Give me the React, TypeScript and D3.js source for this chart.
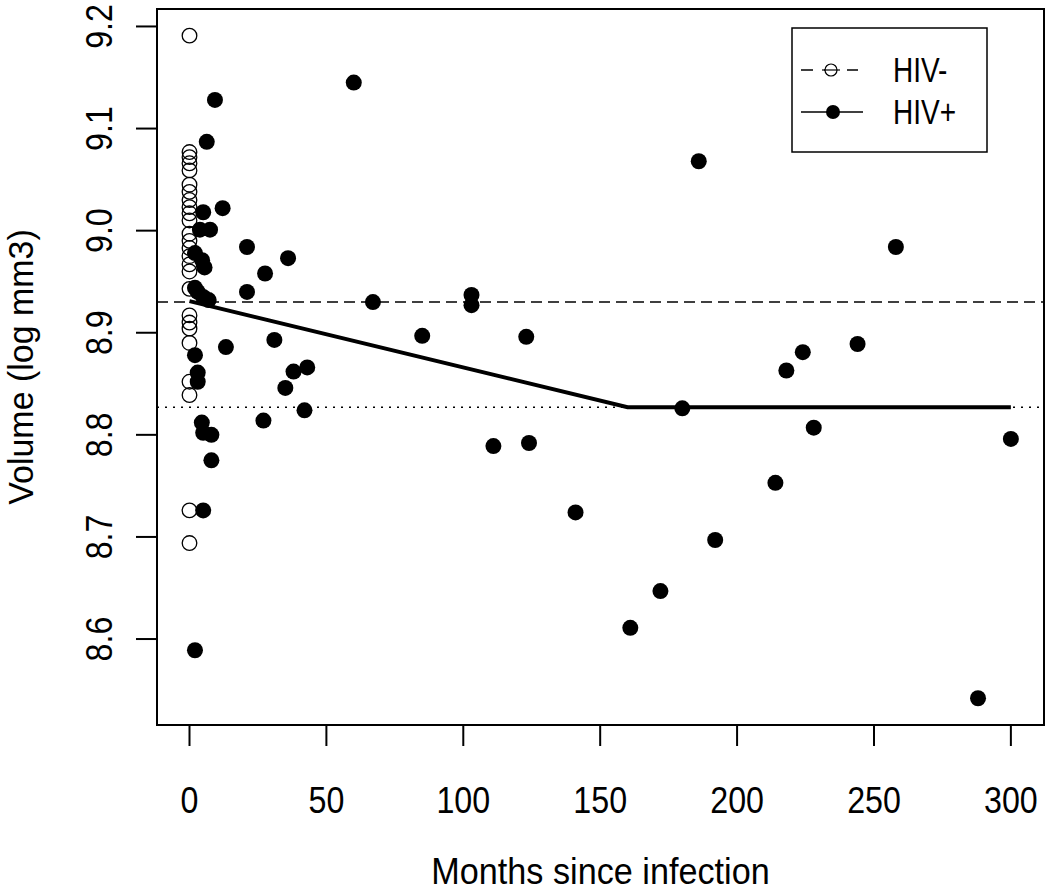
import React from "react";
import * as d3 from "d3";

// ---- Data ----
const hivNegMonths = [0, 0, 0, 0, 0, 0, 0, 0, 0, 0, 0, 0, 0, 0, 0, 0, 0, 0, 0, 0, 0, 0, 0, 0, 0, 0];
const hivNegVolume = [
  9.191, 9.077, 9.072, 9.066, 9.059, 9.045, 9.038, 9.03, 9.023, 9.017, 9.01, 8.997, 8.99,
  8.983, 8.975, 8.967, 8.96, 8.943, 8.917, 8.91, 8.904, 8.89, 8.852, 8.839, 8.726, 8.694,
];

const hivPosMonths = [
  9.3, 6.3, 12.1, 5, 3.8, 7.5, 21, 2, 4.6, 5.5, 27.6, 36, 21, 2, 3, 5, 7, 13.3, 2, 3, 3, 27, 4.5, 5,
  8, 8, 5, 2, 60, 67, 103, 103, 31, 85, 123, 43, 38, 35, 42, 111, 124, 141, 161, 172, 180, 192,
  214, 218, 224, 228, 244, 258, 186, 288, 300,
];
const hivPosVolume = [
  9.128, 9.087, 9.022, 9.018, 9.001, 9.001, 8.984, 8.978, 8.971, 8.964, 8.958, 8.973, 8.94, 8.944,
  8.94, 8.935, 8.932, 8.886, 8.878, 8.861, 8.852, 8.814, 8.812, 8.802, 8.8, 8.775, 8.726, 8.589,
  9.145, 8.93, 8.937, 8.927, 8.893, 8.897, 8.896, 8.866, 8.862, 8.846, 8.824, 8.789, 8.792, 8.724,
  8.611, 8.647, 8.826, 8.697, 8.753, 8.863, 8.881, 8.807, 8.889, 8.984, 9.068, 8.542, 8.796,
];

const fitMonths = [0, 160, 300];
const fitVolume = [8.931, 8.827, 8.827];

const hivNegMean = 8.93;
const hivPosPlateau = 8.827;

const xTicks = [0, 50, 100, 150, 200, 250, 300];
const yTicks = [8.6, 8.7, 8.8, 8.9, 9.0, 9.1, 9.2];

const legendLabels = ["HIV-", "HIV+"];

// ---- Layout ----
const W = 1050;
const H = 891;
const left = 157;
const right = 1044;
const top = 9;
const bottom = 725;
const FONT = "'Liberation Sans', Arial, Helvetica, sans-serif";

export default function App() {
  const x = d3.scaleLinear().domain([-11.87, 312.1]).range([left, right]);
  const y = d3.scaleLinear().domain([8.5158, 9.2171]).range([bottom, top]);

  const fitLine = d3
    .line<number>()
    .x((d, i) => x(fitMonths[i]))
    .y((d) => y(d));

  const tickLen = 21;

  return (
    <svg
      width={W}
      height={H}
      style={{ position: "absolute", left: 0, top: 0, display: "block", background: "#fff" }}
      fontFamily={FONT}
    >
      <rect x={0} y={0} width={W} height={H} fill="#fff" />

      {/* reference lines */}
      <line
        x1={left}
        x2={right}
        y1={y(hivNegMean)}
        y2={y(hivNegMean)}
        stroke="#000"
        strokeWidth={1.5}
        strokeDasharray="11,6"
      />
      <line
        x1={left}
        x2={right}
        y1={y(hivPosPlateau)}
        y2={y(hivPosPlateau)}
        stroke="#000"
        strokeWidth={1.5}
        strokeDasharray="2,6"
      />

      {/* HIV- open circles */}
      {hivNegVolume.map((v, i) => (
        <circle
          key={"n" + i}
          cx={x(hivNegMonths[i])}
          cy={y(v)}
          r={7.3}
          fill="none"
          stroke="#000"
          strokeWidth={1.3}
        />
      ))}

      {/* HIV+ filled circles */}
      {hivPosVolume.map((v, i) => (
        <circle key={"p" + i} cx={x(hivPosMonths[i])} cy={y(v)} r={8} fill="#000" />
      ))}

      {/* fitted line */}
      <path d={fitLine(fitVolume) || ""} fill="none" stroke="#000" strokeWidth={4} />

      {/* box */}
      <rect
        x={left}
        y={top}
        width={right - left}
        height={bottom - top}
        fill="none"
        stroke="#000"
        strokeWidth={2}
      />

      {/* x axis */}
      {xTicks.map((t) => (
        <g key={"xt" + t}>
          <line x1={x(t)} x2={x(t)} y1={bottom} y2={bottom + tickLen} stroke="#000" strokeWidth={2} />
          <text
            transform={`translate(${x(t)},${813}) scale(0.87,1)`}
            textAnchor="middle"
            fontSize={37}
            fill="#000"
          >
            {String(t)}
          </text>
        </g>
      ))}

      {/* y axis */}
      {yTicks.map((t) => (
        <g key={"yt" + t}>
          <line x1={left - tickLen} x2={left} y1={y(t)} y2={y(t)} stroke="#000" strokeWidth={2} />
          <text
            transform={`translate(${112},${y(t)}) rotate(-90) scale(0.87,1)`}
            textAnchor="middle"
            fontSize={37}
            fill="#000"
          >
            {t.toFixed(1)}
          </text>
        </g>
      ))}

      {/* axis titles */}
      <text
        transform={`translate(${(left + right) / 2},${884}) scale(0.95,1)`}
        textAnchor="middle"
        fontSize={36}
        fill="#000"
      >
        Months since infection
      </text>
      <text
        transform={`translate(${33},${(top + bottom) / 2}) rotate(-90) scale(0.97,1)`}
        textAnchor="middle"
        fontSize={35}
        fill="#000"
      >
        Volume (log mm3)
      </text>

      {/* legend */}
      <rect x={792} y={28} width={195} height={124} fill="#fff" stroke="#000" strokeWidth={1.5} />
      <line x1={801} x2={858} y1={70} y2={70} stroke="#000" strokeWidth={1.5} strokeDasharray="12,11" />
      <circle cx={831} cy={70} r={6} fill="#fff" stroke="#000" strokeWidth={1.2} />
      <line x1={822} x2={840} y1={70} y2={70} stroke="#000" strokeWidth={1.2} />
      <line x1={801} x2={863} y1={112} y2={112} stroke="#000" strokeWidth={1.5} />
      <circle cx={833} cy={112} r={7} fill="#000" />
      {legendLabels.map((lab, i) => (
        <text
          key={lab}
          transform={`translate(${893},${82 + i * 42}) scale(0.8,1)`}
          fontSize={35}
          fill="#000"
        >
          {lab}
        </text>
      ))}
    </svg>
  );
}
